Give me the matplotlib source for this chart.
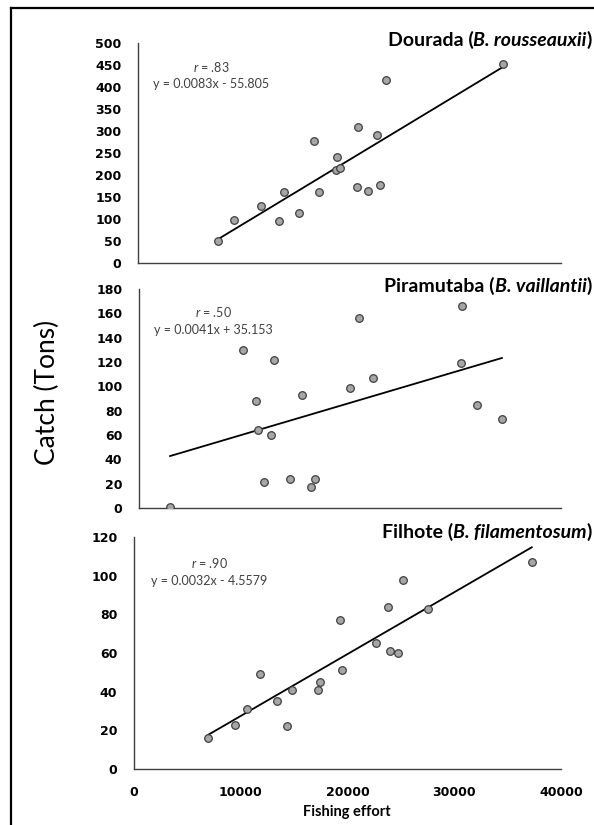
import matplotlib.pyplot as plt
import numpy as np
from matplotlib.lines import Line2D

plt.rcParams['mathtext.fontset'] = 'custom'
plt.rcParams['mathtext.it'] = 'Lato:italic'
plt.rcParams['mathtext.rm'] = 'Lato'

# Dourada (B. rousseauxii)
dourada_effort = [13240, 15890, 20350, 23340, 24220, 26700, 29190, 29900, 32880, 32770,
                  33440, 36260, 36370, 38030, 39630, 40020, 41020, 60400]
dourada_catch = [49, 98, 130, 95, 161, 114, 278, 161, 241, 211,
                 217, 173, 309, 164, 292, 178, 416, 453]

# Piramutaba (B. vaillantii)
piramutaba_effort = [1840, 6160, 6910, 7050, 7410, 7800, 7980, 8950, 9650, 10160,
                     10440, 12520, 13030, 13870, 19120, 19080, 20030, 21500]
piramutaba_catch = [1, 130, 88, 64, 21, 60, 122, 24, 93, 17,
                    24, 99, 156, 107, 166, 119, 85, 73]

# Filhote (B. filamentosum)
filhote_effort = [6960, 9460, 10590, 11800, 13400, 14300, 14800, 17210, 17400, 19300,
                  19510, 22700, 23830, 24010, 24700, 25200, 27540, 37260]
filhote_catch = [16, 23, 31, 49, 35, 22, 41, 41, 45, 77,
                 51, 65, 84, 61, 60, 98, 83, 107]

slopes = [0.0083, 0.0041, 0.0032]
intercepts = [-55.805, 35.153, -4.5579]
r_labels = ['.83', '.50', '.90']
eq_labels = ['y = 0.0083x - 55.805', 'y = 0.0041x + 35.153', 'y = 0.0032x - 4.5579']
names = ['Dourada', 'Piramutaba', 'Filhote']
species = ['B. rousseauxii', 'B. vaillantii', 'B. filamentosum']

efforts = [dourada_effort, piramutaba_effort, filhote_effort]
catches = [dourada_catch, piramutaba_catch, filhote_catch]

W, H = 594, 825
fig = plt.figure(figsize=(W / 100, H / 100), dpi=100)
renderer = fig.canvas.get_renderer()

# axes boxes in pixels: left, right, top, bottom
boxes = [(138, 561, 43, 263), (139, 561, 289, 508), (134, 561, 537, 769)]
xlims = [70000, 25000, 40000]
ylims = [500, 180, 120]
ysteps = [50, 20, 20]
title_y = [46, 292, 538]
r_y = [72, 317, 568]
eq_y = [88, 334, 585]
text_x = [211, 213, 209]

for i in range(3):
    l, r, t, b = boxes[i]
    ax = fig.add_axes([l / W, 1 - b / H, (r - l) / W, (b - t) / H])
    x = np.array(efforts[i])
    y = np.array(catches[i])
    xs = np.array([x.min(), x.max()])
    ax.plot(xs, slopes[i] * xs + intercepts[i], c='black', lw=1.3, zorder=2)
    ax.scatter(x, y, s=30, c='#a6a6a6', edgecolors='#3f3f3f', linewidths=0.9, zorder=3)
    ax.set_xlim(0, xlims[i])
    ax.set_ylim(0, ylims[i])
    ax.set_yticks(np.arange(0, ylims[i] + 1, ysteps[i]))
    for s in ['top', 'right']:
        ax.spines[s].set_visible(False)
    for s in ['left', 'bottom']:
        ax.spines[s].set_color('#404040')
        ax.spines[s].set_linewidth(1.0)
    ax.tick_params(length=0, pad=12, labelsize=9)
    for lab in ax.get_yticklabels():
        lab.set_fontweight('bold')
    if i < 2:
        ax.set_xticks([])
    else:
        ax.set_xticks([0, 10000, 20000, 30000, 40000])
        for lab in ax.get_xticklabels():
            lab.set_fontweight('bold')

    # title in pieces, right aligned: name (italic species)
    ty = 1 - title_y[i] / H
    xr = 592 / W
    pieces = [(')', 'normal'), (species[i], 'italic'), (names[i] + ' (', 'normal')]
    for txt, sty in pieces:
        tt = fig.text(xr, ty, txt, ha='right', va='baseline', family='Lato',
                      fontsize=14, fontweight='bold', style=sty)
        bb = tt.get_window_extent(renderer)
        xr = bb.x0 / W

    fig.text(text_x[i] / W, 1 - r_y[i] / H, r'$\it{r}$ = ' + r_labels[i],
             ha='center', va='baseline', family='Lato', fontsize=9, color='#404040')
    fig.text(text_x[i] / W, 1 - eq_y[i] / H, eq_labels[i],
             ha='center', va='baseline', family='Lato', fontsize=9, color='#404040')

fig.text(47 / W, 1 - 392 / H, 'Catch (Tons)', rotation=90, ha='center', va='center',
         family='Lato', fontsize=19)
fig.text(347 / W, 1 - 816 / H, 'Fishing effort', ha='center', va='baseline',
         family='Lato', fontsize=10.5, fontweight='bold')

# outer frame (left and top edges visible)
fig.add_artist(Line2D([11 / W, 11 / W], [0, 1 - 8 / H], transform=fig.transFigure, c='black', lw=1.6))
fig.add_artist(Line2D([11 / W, 1], [1 - 8 / H, 1 - 8 / H], transform=fig.transFigure, c='black', lw=1.6))

fig.savefig('out.png', dpi=100)
